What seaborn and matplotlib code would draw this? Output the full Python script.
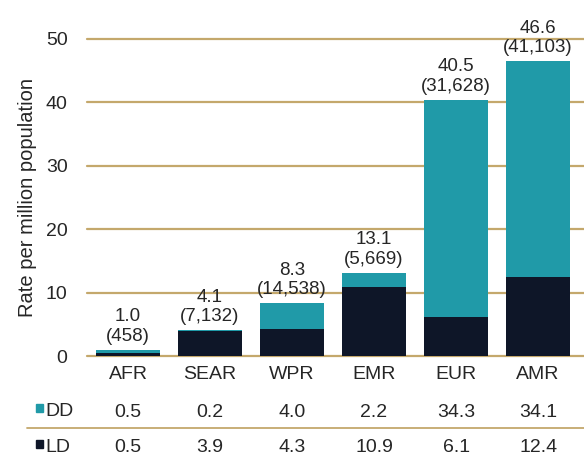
import pandas as pd
import seaborn as sns
import matplotlib.pyplot as plt
import matplotlib.lines as mlines
import matplotlib.patches as mpatches

regions = ["AFR", "SEAR", "WPR", "EMR", "EUR", "AMR"]
dd_rate = [0.5, 0.2, 4.0, 2.2, 34.3, 34.1]
ld_rate = [0.5, 3.9, 4.3, 10.9, 6.1, 12.4]
total_rate = [1.0, 4.1, 8.3, 13.1, 40.5, 46.6]
donors = [458, 7132, 14538, 5669, 31628, 41103]

teal = "#209aa8"
navy = "#0e1628"
gold = "#c4a86c"

df = pd.DataFrame({"Region": regions, "DD": dd_rate, "LD": ld_rate,
                   "Total": total_rate, "N": donors})
df["Stack"] = df["DD"] + df["LD"]

sns.set_style("white")
plt.rcParams['font.family'] = ['Liberation Sans', 'DejaVu Sans']

fig = plt.figure(figsize=(5.84, 4.57), dpi=100)
ax = fig.add_axes([0.149, 0.221, 0.851, 0.694])

# stacked bars: full height in teal, LD over it in navy
sns.barplot(data=df, x="Region", y="Stack", color=teal, width=0.78,
            saturation=1, linewidth=0, ax=ax, zorder=3)
sns.barplot(data=df, x="Region", y="LD", color=navy, width=0.78,
            saturation=1, linewidth=0, ax=ax, zorder=4)

ax.set_xlim(-0.5, 5.56)
ax.set_ylim(0, 50)
ax.set_yticks([0, 10, 20, 30, 40, 50])
for y in [0, 10, 20, 30, 40, 50]:
    ax.axhline(y, color=gold, lw=1.6, zorder=2, clip_on=False)
sns.despine(ax=ax, left=True, bottom=True)
ax.tick_params(axis='y', length=0, pad=14, labelsize=14)
ax.tick_params(axis='x', length=0, pad=7, labelsize=14)
ax.set_xlabel("")
ax.set_ylabel("Rate per million population", fontsize=14.5, labelpad=6)

for i, row in df.iterrows():
    ax.annotate(f"{row['Total']:.1f}\n({row['N']:,})", (i, row["Stack"]),
                xytext=(0, 3.5), textcoords="offset points", ha="center",
                va="bottom", fontsize=13.5, linespacing=1.2, zorder=6,
                annotation_clip=False)

# data table under the chart
xt = ax.get_xaxis_transform()
for i in range(len(regions)):
    ax.text(i, -0.177, f"{dd_rate[i]:.1f}", transform=xt, ha="center",
            va="center", fontsize=14)
    ax.text(i, -0.29, f"{ld_rate[i]:.1f}", transform=xt, ha="center",
            va="center", fontsize=14)

W, H = 584, 457
fig.patches.append(mpatches.Rectangle((36 / W, 1 - 412 / H), 7 / W, 8 / H,
                                      color=teal, transform=fig.transFigure))
fig.patches.append(mpatches.Rectangle((36 / W, 1 - 448 / H), 7 / W, 8 / H,
                                      color=navy, transform=fig.transFigure))
fig.text(45 / W, 1 - 412 / H, "DD", fontsize=14, va="center")
fig.text(45 / W, 1 - 448 / H, "LD", fontsize=14, va="center")
fig.lines.append(mlines.Line2D([27 / W, 1], [1 - 428 / H] * 2, color=gold,
                               lw=1.3, transform=fig.transFigure))

fig.savefig("out.png", dpi=100)
